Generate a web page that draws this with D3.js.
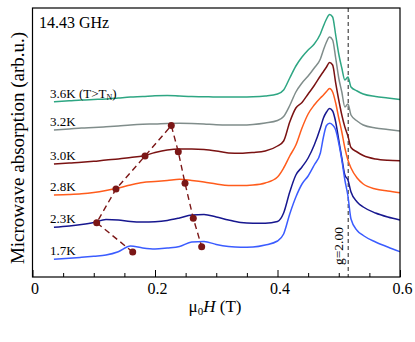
<!DOCTYPE html>
<html><head><meta charset="utf-8">
<script src="https://cdn.jsdelivr.net/npm/d3@7"></script>
<style>
body{margin:0;background:#fff}
svg{display:block}
</style></head>
<body><svg id="c" width="415" height="342" font-family="Liberation Serif, DejaVu Serif, serif"></svg>
<script>
// ---- data ----
const field = [0.035,0.06,0.08,0.10,0.12,0.14,0.16,0.18,0.20,0.22,
  0.24,0.26,0.28,0.30,0.32,0.34,0.36,0.38,0.40,
  0.41,0.42,0.43,0.44,0.45,0.46,0.47,
  0.475,0.48,0.485,0.49,0.495,0.50,0.505,0.51,0.515,0.52,
  0.53,0.54,0.56,0.58,0.60];
const temps = ["3.6K","3.2K","3.0K","2.8K","2.3K","1.7K"];
const abs36 = [17.53,17.62,17.7,17.75,17.8,17.9,18.0,18.05,18.13,18.15,
  18.1,18.05,18.03,18.0,18.0,18.0,18.02,18.1,18.3,
  18.7,19.9,21.1,22.0,22.7,23.3,24.3,
  25.1,25.8,26.25,26.0,24.2,22.3,20.9,19.7,20.0,19.0,
  18.6,18.3,18.05,17.9,17.75];
const abs32 = [14.7,14.8,14.9,14.95,15.02,15.1,15.2,15.27,15.3,15.35,
  15.37,15.35,15.3,15.22,15.2,15.2,15.25,15.4,15.65,
  16.05,17.15,18.5,19.4,20.1,20.9,21.8,
  22.7,23.5,24.0,23.7,21.9,19.9,18.5,17.0,17.3,16.2,
  15.6,15.2,14.9,14.75,14.6];
const abs30 = [11.3,11.4,11.47,11.57,11.7,11.8,11.95,12.1,12.45,12.7,
  12.8,12.8,12.75,12.6,12.4,12.37,12.45,12.6,13.1,
  13.6,15.5,16.9,17.45,18.3,19.15,20.1,
  20.55,21.0,21.45,21.2,19.4,17.7,16.2,15.0,14.1,12.95,
  12.5,12.15,11.8,11.67,11.63];
const abs28 = [8.2,8.25,8.32,8.45,8.65,8.9,9.2,9.45,9.55,9.65,
  9.77,9.65,9.5,9.3,9.15,9.15,9.2,9.4,10.0,
  10.9,12.1,13.2,14.9,16.3,17.2,17.9,
  18.2,18.55,18.85,18.5,17.4,15.9,14.5,12.9,11.7,10.9,
  9.9,9.3,8.8,8.6,8.43];
const abs23 = [4.97,5.1,5.25,5.45,5.75,5.7,5.55,5.5,5.53,5.65,
  5.9,6.2,6.25,6.0,5.7,5.45,5.37,5.37,5.55,
  6.4,8.5,10.2,11.0,11.9,13.2,14.9,
  15.9,16.5,16.85,16.6,15.5,13.7,11.9,10.2,9.7,8.5,
  7.5,7.0,6.4,6.0,5.7];
const abs17 = [1.77,1.87,1.97,2.08,2.2,2.53,3.1,2.9,2.8,2.9,
  3.05,3.5,3.55,3.25,3.05,2.97,3.0,3.2,3.6,
  4.3,6.3,8.0,9.3,10.1,11.2,12.4,
  14.0,15.15,15.37,15.2,14.7,13.4,11.7,9.7,8.1,5.8,
  4.65,4.15,3.5,3.0,2.53];
const modeField = [0.1636,0.1048,0.1363,0.1837,0.2266,0.238,0.249,0.2625,0.2762];
const modeValue = [2.5,5.43,8.8,12.1,15.15,12.53,9.37,5.87,3.03];
const xTicks = [0,0.2,0.4,0.6];
const xMinor = [0.05,0.1,0.15,0.25,0.3,0.35,0.45,0.5,0.55];
const gResonance = 0.5155;

// ---- drawing ----
const FONT = "Liberation Serif, DejaVu Serif, serif";
const series = [
  {t:temps[0], v:abs36, c:"#2ea683", extra:true},
  {t:temps[1], v:abs32, c:"#808d8b"},
  {t:temps[2], v:abs30, c:"#7a1212"},
  {t:temps[3], v:abs28, c:"#ff5c1c"},
  {t:temps[4], v:abs23, c:"#17178f"},
  {t:temps[5], v:abs17, c:"#3b5cff"}
];
const L=32.5,R=400,T=8,B=277;
const svg = d3.select("#c");
const x = d3.scaleLinear().domain([0,0.6]).range([L,R]);
const y = d3.scaleLinear().domain([0,26.9]).range([B,T]);

svg.append("defs").append("clipPath").attr("id","clip")
  .append("rect").attr("x",L).attr("y",T).attr("width",R-L).attr("height",B-T);

svg.append("line").attr("x1",x(gResonance)).attr("x2",x(gResonance))
  .attr("y1",T).attr("y2",B).attr("stroke","#555").attr("stroke-width",1.3)
  .attr("stroke-dasharray","4,3");

const line = d3.line().x((d,i)=>x(field[i])).y(d=>y(d)).curve(d3.curveMonotoneX);
const gc = svg.append("g").attr("clip-path","url(#clip)");
series.forEach(s=>{
  gc.append("path").attr("d",line(s.v)).attr("fill","none")
    .attr("stroke",s.c).attr("stroke-width",1.5).attr("stroke-linejoin","round");
});

function txt(sel){ return sel.attr("font-family",FONT).attr("fill","#000"); }

series.forEach(s=>{
  const t = txt(svg.append("text")).attr("x",50).attr("y",y(s.v[0])-4)
    .attr("font-size",13).text(s.t);
  if(s.extra){
    t.append("tspan").text(" (T>T");
    t.append("tspan").attr("font-size",8).attr("dy",2).text("N");
    t.append("tspan").attr("dy",-2).text(")");
  }
});

const dl = d3.line().x((d,i)=>x(modeField[i])).y(d=>y(d));
svg.append("path").attr("d",dl(modeValue)).attr("fill","none")
  .attr("stroke","#7b1616").attr("stroke-width",1.4).attr("stroke-dasharray","6,4");
svg.selectAll("circle.m").data(modeValue).enter().append("circle")
  .attr("cx",(d,i)=>x(modeField[i])).attr("cy",d=>y(d)).attr("r",3.5)
  .attr("fill","#7b1616");

svg.append("rect").attr("x",L).attr("y",T).attr("width",R-L).attr("height",B-T)
  .attr("fill","none").attr("stroke","#000").attr("stroke-width",1.2);

const ax = svg.append("g").attr("transform",`translate(0,${B})`)
  .call(d3.axisBottom(x).tickValues(xTicks).tickSizeInner(-7).tickSizeOuter(0)
    .tickPadding(6).tickFormat(d=>d===0?"0":d3.format(".1f")(d)));
ax.select(".domain").remove();
ax.attr("font-family",FONT).attr("font-size",16);
ax.selectAll("text").attr("font-family",FONT).attr("font-size",16).attr("dx",2).attr("fill","#000");
ax.selectAll("line").attr("stroke","#000");
const axm = svg.append("g").attr("transform",`translate(0,${B})`)
  .call(d3.axisBottom(x).tickValues(xMinor).tickSizeInner(-4).tickSizeOuter(0).tickFormat(""));
axm.select(".domain").remove();
axm.selectAll("line").attr("stroke","#000");

const xt = txt(svg.append("text")).attr("x",215).attr("y",312).attr("text-anchor","middle")
  .attr("font-size",17);
xt.append("tspan").text("μ");
xt.append("tspan").attr("font-size",11).attr("dy",3).text("0");
xt.append("tspan").attr("dy",-3).attr("font-style","italic").text("H");
xt.append("tspan").text(" (T)");

txt(svg.append("text")).attr("transform","translate(24,148) rotate(-90)")
  .attr("text-anchor","middle").attr("font-size",19)
  .text("Microwave absorption (arb.u.)");

txt(svg.append("text")).attr("x",39).attr("y",28).attr("font-size",16).text("14.43 GHz");

txt(svg.append("text")).attr("transform",`translate(343,246) rotate(-90)`)
  .attr("text-anchor","middle").attr("font-size",13.5).text("g=2.00");
</script></body></html>
